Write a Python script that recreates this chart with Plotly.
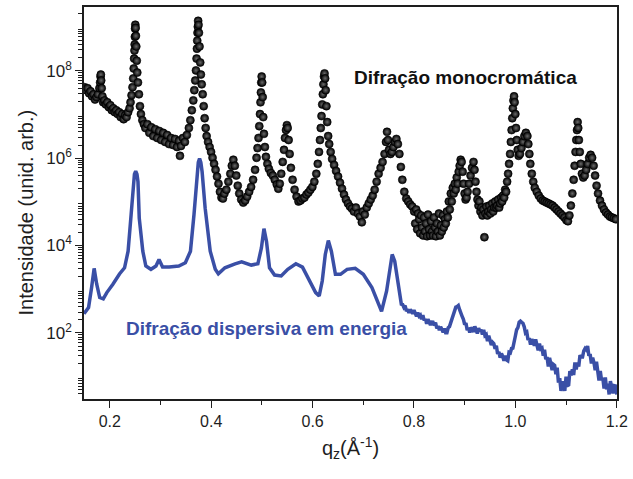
import plotly.graph_objects as go

# Monochromatic diffraction (black dots): q_z in 1/Angstrom, intensity in arb. units
mono_q = [
    0.1500, 0.1531, 0.1560, 0.1590, 0.1619, 0.1648, 0.1677, 0.1707, 0.1736, 0.1765,
    0.1794, 0.1808, 0.1816, 0.1822, 0.1829, 0.1839, 0.1853, 0.1868, 0.1892, 0.1921,
    0.1950, 0.1980, 0.2009, 0.2038, 0.2067, 0.2097, 0.2126, 0.2155, 0.2184, 0.2213,
    0.2243, 0.2272, 0.2301, 0.2330, 0.2360, 0.2389, 0.2408, 0.2428, 0.2447, 0.2461,
    0.2471, 0.2479, 0.2486, 0.2490, 0.2494, 0.2498, 0.2502, 0.2508, 0.2514, 0.2521,
    0.2531, 0.2541, 0.2555, 0.2574, 0.2594, 0.2613, 0.2642, 0.2672, 0.2701, 0.2740,
    0.2779, 0.2818, 0.2857, 0.2896, 0.2935, 0.2974, 0.3013, 0.3052, 0.3091, 0.3130,
    0.3169, 0.3208, 0.3247, 0.3286, 0.3325, 0.3364, 0.3383, 0.3403, 0.3442, 0.3481,
    0.3520, 0.3559, 0.3588, 0.3617, 0.3646, 0.3666, 0.3685, 0.3699, 0.3711, 0.3718,
    0.3724, 0.3730, 0.3736, 0.3742, 0.3749, 0.3757, 0.3769, 0.3783, 0.3796, 0.3812,
    0.3831, 0.3851, 0.3870, 0.3890, 0.3909, 0.3938, 0.3968, 0.3997, 0.4026, 0.4056,
    0.4085, 0.4114, 0.4143, 0.4172, 0.4202, 0.4231, 0.4260, 0.4299, 0.4338, 0.4377,
    0.4406, 0.4436, 0.4465, 0.4494, 0.4523, 0.4553, 0.4592, 0.4631, 0.4670, 0.4709,
    0.4748, 0.4787, 0.4826, 0.4865, 0.4894, 0.4913, 0.4933, 0.4948, 0.4962, 0.4972,
    0.4980, 0.4987, 0.4995, 0.5005, 0.5015, 0.5026, 0.5040, 0.5059, 0.5079, 0.5108,
    0.5137, 0.5176, 0.5215, 0.5254, 0.5293, 0.5323, 0.5352, 0.5381, 0.5410, 0.5436,
    0.5455, 0.5475, 0.5492, 0.5508, 0.5527, 0.5547, 0.5572, 0.5605, 0.5644, 0.5683,
    0.5722, 0.5761, 0.5800, 0.5839, 0.5878, 0.5917, 0.5956, 0.5995, 0.6034, 0.6073,
    0.6102, 0.6126, 0.6145, 0.6161, 0.6176, 0.6190, 0.6202, 0.6213, 0.6225, 0.6235,
    0.6247, 0.6258, 0.6272, 0.6288, 0.6307, 0.6327, 0.6356, 0.6385, 0.6424, 0.6463,
    0.6502, 0.6541, 0.6580, 0.6619, 0.6658, 0.6698, 0.6737, 0.6776, 0.6815, 0.6854,
    0.6893, 0.6932, 0.6971, 0.6990, 0.7029, 0.7068, 0.7107, 0.7146, 0.7185, 0.7224,
    0.7263, 0.7302, 0.7341, 0.7380, 0.7419, 0.7448, 0.7468, 0.7487, 0.7507, 0.7536,
    0.7565, 0.7595, 0.7624, 0.7653, 0.7682, 0.7712, 0.7741, 0.7770, 0.7809, 0.7848,
    0.7887, 0.7926, 0.7965, 0.8004, 0.8024, 0.8043, 0.8063, 0.8082, 0.8102, 0.8121,
    0.8141, 0.8160, 0.8180, 0.8199, 0.8219, 0.8238, 0.8258, 0.8277, 0.8297, 0.8316,
    0.8336, 0.8355, 0.8375, 0.8394, 0.8414, 0.8433, 0.8453, 0.8472, 0.8492, 0.8511,
    0.8531, 0.8550, 0.8570, 0.8589, 0.8609, 0.8628, 0.8648, 0.8667, 0.8687, 0.8706,
    0.8726, 0.8745, 0.8765, 0.8784, 0.8804, 0.8823, 0.8843, 0.8862, 0.8882, 0.8901,
    0.8921, 0.8940, 0.8960, 0.8979, 0.8999, 0.9018, 0.9038, 0.9057, 0.9086, 0.9116,
    0.9145, 0.9174, 0.9194, 0.9213, 0.9233, 0.9252, 0.9272, 0.9291, 0.9311, 0.9330,
    0.9350, 0.9369, 0.9389, 0.9408, 0.9428, 0.9447, 0.9467, 0.9486, 0.9506, 0.9525,
    0.9545, 0.9564, 0.9584, 0.9603, 0.9623, 0.9642, 0.9662, 0.9681, 0.9701, 0.9720,
    0.9740, 0.9759, 0.9779, 0.9798, 0.9818, 0.9837, 0.9857, 0.9876, 0.9896, 0.9911,
    0.9925, 0.9939, 0.9950, 0.9962, 0.9974, 0.9985, 0.9999, 1.0013, 1.0028, 1.0046,
    1.0065, 1.0091, 1.0120, 1.0149, 1.0178, 1.0207, 1.0237, 1.0256, 1.0276, 1.0295,
    1.0324, 1.0353, 1.0383, 1.0422, 1.0461, 1.0500, 1.0539, 1.0578, 1.0617, 1.0656,
    1.0695, 1.0734, 1.0773, 1.0812, 1.0851, 1.0890, 1.0929, 1.0968, 1.1007, 1.1037,
    1.1066, 1.1095, 1.1124, 1.1150, 1.1169, 1.1187, 1.1202, 1.1216, 1.1228, 1.1240,
    1.1253, 1.1271, 1.1290, 1.1313, 1.1339, 1.1368, 1.1397, 1.1427, 1.1456, 1.1485,
    1.1514, 1.1544, 1.1573, 1.1602, 1.1631, 1.1670, 1.1709, 1.1748, 1.1787, 1.1826,
    1.1865, 1.1904, 1.1943, 1.1982,
]
mono_i = [
    4.2e7, 3.6e7, 4.0e7, 3.05e7, 3.4e7, 2.6e7, 2.9e7, 2.2e7, 2.5e7, 2.9e7,
    4.0e7, 5.4e7, 7.4e7, 8.2e7, 6.0e7, 4.0e7, 2.6e7, 1.9e7, 2.1e7, 1.7e7,
    1.9e7, 1.47e7, 1.63e7, 1.25e7, 1.39e7, 1.13e7, 1.25e7, 1.02e7, 1.13e7, 8.7e6,
    1.02e7, 7.8e6, 9.6e6, 8.7e6, 1.13e7, 1.39e7, 1.9e7, 2.75e7, 4.2e7, 6.7e7,
    1.13e8, 1.9e8, 2.9e8, 4.0e8, 6.0e8, 9.2e8, 1.13e9, 9.6e8, 6.3e8, 3.6e8,
    1.7e8, 9.1e7, 5.4e7, 2.9e7, 1.55e7, 1.02e7, 7.4e6, 6.0e6, 4.9e6, 6.0e6,
    3.8e6, 5.1e6, 3.2e6, 4.6e6, 2.9e6, 4.2e6, 2.6e6, 3.8e6, 2.35e6, 3.4e6,
    2.1e6, 2.9e6, 2.0e6, 2.75e6, 1.8e6, 2.5e6, 1.13e6, 1.9e6, 2.9e6, 2.35e6,
    3.4e6, 4.9e6, 7.4e6, 1.25e7, 2.1e7, 3.6e7, 6.0e7, 1.02e8, 1.9e8, 3.2e8,
    4.9e8, 7.4e8, 1.02e9, 1.39e9, 1.13e9, 7.4e8, 3.6e8, 1.55e8, 8.2e7, 4.9e7,
    2.9e7, 1.55e7, 8.2e6, 4.9e6, 3.2e6, 2.35e6, 1.8e6, 1.39e6, 1.02e6, 7.4e5,
    5.4e5, 3.8e5, 2.6e5, 1.7e5, 1.25e5, 1.19e5, 1.55e5, 1.9e5, 2.9e5, 4.4e5,
    6.7e5, 9.2e5, 6.7e5, 4.0e5, 2.35e5, 1.55e5, 1.13e5, 9.6e4, 1.07e5, 1.32e5,
    1.7e5, 2.2e5, 3.2e5, 5.4e5, 1.02e6, 1.7e6, 2.9e6, 5.4e6, 1.02e7, 1.9e7,
    3.2e7, 5.4e7, 7.4e7, 5.4e7, 2.5e7, 8.7e6, 3.6e6, 1.8e6, 1.07e6, 7.4e5,
    5.7e5, 4.6e5, 4.0e5, 3.2e5, 2.5e5, 2.0e5, 2.6e5, 4.4e5, 8.2e5, 1.55e6,
    2.9e6, 4.4e6, 5.7e6, 4.9e6, 2.6e6, 1.25e6, 6.0e5, 3.2e5, 1.9e5, 1.32e5,
    1.02e5, 1.07e5, 1.19e5, 1.25e5, 1.47e5, 1.63e5, 1.9e5, 2.2e5, 2.9e5, 4.4e5,
    7.4e5, 1.39e6, 2.6e6, 4.9e6, 9.2e6, 1.7e7, 2.9e7, 4.9e7, 7.4e7, 8.7e7,
    6.7e7, 3.6e7, 1.55e7, 6.7e6, 3.2e6, 2.1e6, 1.39e6, 9.6e5, 7.0e5, 5.1e5,
    3.8e5, 2.75e5, 2.0e5, 1.47e5, 1.13e5, 9.2e4, 7.8e4, 7.0e4, 6.0e4, 7.4e4,
    5.4e4, 4.6e4, 3.4e4, 6.0e4, 5.1e4, 7.4e4, 9.2e4, 1.13e5, 1.39e5, 1.9e5,
    2.9e5, 4.4e5, 6.0e5, 8.2e5, 1.25e6, 2.35e6, 4.0e6, 2.6e6, 1.55e6, 1.25e6,
    1.39e6, 1.8e6, 2.35e6, 2.75e6, 2.1e6, 1.25e6, 6.3e5, 3.2e5, 1.7e5, 1.19e5,
    1.02e5, 8.7e4, 7.8e4, 6.0e4, 3.2e4, 6.7e4, 2.35e4, 5.4e4, 4.0e4, 1.9e4,
    4.9e4, 2.6e4, 1.7e4, 4.4e4, 2.1e4, 3.2e4, 1.63e4, 5.1e4, 2.35e4, 1.7e4,
    3.6e4, 2.1e4, 1.7e4, 4.4e4, 2.6e4, 1.63e4, 3.2e4, 2.1e4, 5.4e4, 1.7e4,
    2.9e4, 2.1e4, 4.9e4, 2.6e4, 4.0e4, 3.2e4, 6.0e4, 4.4e4, 1.02e5, 6.7e4,
    1.55e5, 1.02e5, 2.1e5, 1.55e5, 2.6e5, 1.9e5, 3.6e5, 2.6e5, 4.9e5, 6.7e5,
    9.2e5, 8.2e5, 4.9e5, 2.6e5, 1.55e5, 1.13e5, 1.25e5, 1.7e5, 2.6e5, 4.0e5,
    6.0e5, 8.2e5, 5.4e5, 2.9e5, 1.7e5, 1.13e5, 8.2e4, 1.02e5, 6.0e4, 7.4e4,
    4.9e4, 6.7e4, 1.55e4, 5.4e4, 7.8e4, 4.9e4, 6.0e4, 8.2e4, 5.4e4, 6.7e4,
    9.2e4, 6.0e4, 7.4e4, 1.02e5, 7.4e4, 8.2e4, 1.13e5, 7.4e4, 9.2e4, 1.25e5,
    1.02e5, 1.39e5, 1.25e5, 1.9e5, 1.7e5, 2.9e5, 4.4e5, 7.4e5, 1.25e6, 2.35e6,
    4.4e6, 8.2e6, 1.39e7, 2.1e7, 2.6e7, 1.9e7, 1.02e7, 4.9e6, 2.6e6, 1.55e6,
    1.13e6, 1.25e6, 1.7e6, 2.35e6, 3.2e6, 3.8e6, 3.2e6, 2.1e6, 1.25e6, 7.4e5,
    4.4e5, 2.9e5, 2.1e5, 1.7e5, 1.39e5, 1.19e5, 1.07e5, 1.02e5, 9.6e4, 9.2e4,
    8.7e4, 8.2e4, 7.4e4, 6.7e4, 6.0e4, 5.4e4, 4.9e4, 4.4e4, 3.8e4, 3.6e4,
    4.9e4, 8.2e4, 1.55e5, 3.2e5, 6.7e5, 1.39e6, 2.6e6, 4.4e6, 6.7e6, 4.9e6,
    2.6e6, 1.39e6, 7.4e5, 4.4e5, 3.6e5, 4.0e5, 5.4e5, 7.4e5, 1.02e6, 1.19e6,
    1.02e6, 6.7e5, 4.0e5, 2.35e5, 1.55e5, 1.07e5, 8.2e4, 6.7e4, 5.7e4, 5.1e4,
    4.6e4, 4.4e4, 4.2e4, 4.0e4,
]

# Energy-dispersive diffraction (blue line); the q > 0.77 part is the noisy tail
edx_q = [
    0.149, 0.158, 0.164, 0.169, 0.174, 0.180, 0.187, 0.194, 0.206, 0.219,
    0.229, 0.236, 0.242, 0.2455, 0.2485, 0.251, 0.2535, 0.2555, 0.258, 0.265,
    0.271, 0.281, 0.291, 0.297, 0.304, 0.317, 0.336, 0.349, 0.359, 0.366,
    0.371, 0.3745, 0.377, 0.3795, 0.382, 0.388, 0.398, 0.408, 0.414, 0.427,
    0.447, 0.460, 0.479, 0.492, 0.499, 0.504, 0.509, 0.515, 0.525, 0.538,
    0.551, 0.567, 0.580, 0.593, 0.606, 0.613, 0.619, 0.625, 0.631, 0.637,
    0.645, 0.655, 0.668, 0.684, 0.700, 0.717, 0.730, 0.736, 0.746, 0.754,
    0.757, 0.762, 0.769, 0.775,
    0.7775, 0.7800, 0.7825, 0.7850, 0.7875, 0.7900, 0.7925, 0.7950, 0.7975, 0.8000,
    0.8025, 0.8050, 0.8075, 0.8100, 0.8125, 0.8150, 0.8175, 0.8200, 0.8225, 0.8250,
    0.8275, 0.8300, 0.8325, 0.8350, 0.8375, 0.8400, 0.8425, 0.8450, 0.8475, 0.8500,
    0.8525, 0.8550, 0.8575, 0.8600, 0.8625, 0.8650, 0.8675, 0.8700, 0.8725, 0.8750,
    0.8775, 0.8800, 0.8825, 0.8850, 0.8875, 0.8900, 0.8925, 0.8950, 0.8975, 0.9000,
    0.9025, 0.9050, 0.9075, 0.9100, 0.9125, 0.9150, 0.9175, 0.9200, 0.9225, 0.9250,
    0.9275, 0.9300, 0.9325, 0.9350, 0.9375, 0.9400, 0.9425, 0.9450, 0.9475, 0.9500,
    0.9525, 0.9550, 0.9575, 0.9600, 0.9625, 0.9650, 0.9675, 0.9700, 0.9725, 0.9750,
    0.9775, 0.9800, 0.9825, 0.9850, 0.9875, 0.9900, 0.9925, 0.9950, 0.9975, 1.0000,
    1.0025, 1.0050, 1.0075, 1.0100, 1.0125, 1.0150, 1.0175, 1.0200, 1.0225, 1.0250,
    1.0275, 1.0300, 1.0325, 1.0350, 1.0375, 1.0400, 1.0425, 1.0450, 1.0475, 1.0500,
    1.0525, 1.0550, 1.0575, 1.0600, 1.0625, 1.0650, 1.0675, 1.0700, 1.0725, 1.0750,
    1.0775, 1.0800, 1.0825, 1.0850, 1.0875, 1.0900, 1.0925, 1.0950, 1.0975, 1.1000,
    1.1025, 1.1050, 1.1075, 1.1100, 1.1125, 1.1150, 1.1175, 1.1200, 1.1225, 1.1250,
    1.1275, 1.1300, 1.1325, 1.1350, 1.1375, 1.1400, 1.1425, 1.1450, 1.1475, 1.1500,
    1.1525, 1.1550, 1.1575, 1.1600, 1.1625, 1.1650, 1.1675, 1.1700, 1.1725, 1.1750,
    1.1775, 1.1800, 1.1825, 1.1850, 1.1875, 1.1900, 1.1925, 1.1950, 1.1975, 1.2000,
]
edx_i = [
    275, 382, 1090, 3000, 1320, 645, 602, 837, 1300, 2230,
    3100, 7420, 51400, 180000, 430000, 507000, 430000, 289000, 42400, 7420,
    3390, 2850, 3390, 4800, 3210, 3210, 3390, 4020, 7420, 51400,
    300000, 800000, 980000, 800000, 489000, 71600, 7420, 2850, 2260, 3100,
    3820, 4240, 3570, 3820, 8820, 24300, 12500, 3100, 2110, 2010,
    2850, 3820, 3210, 1690, 837, 704, 1540, 6240, 13000, 7420,
    2190, 2190, 2850, 3000, 2190, 1090, 456, 310, 915, 3700,
    6240, 4400, 1090, 456,
    447, 385, 421, 314, 348, 288, 343, 313, 275, 331,
    264, 238, 291, 243, 256, 205, 253, 193, 209, 162,
    207, 174, 152, 176, 175, 148, 173, 127, 144, 115,
    138, 122, 103, 126, 101, 101, 131, 139, 175, 204,
    280, 305, 388, 398, 421, 339, 267, 240, 204, 156,
    167, 116, 131, 102, 133, 122, 106, 141, 108, 97,
    129, 108, 118, 92, 118, 87, 92, 65, 86, 66,
    53, 61, 57, 43, 51, 33, 37, 27, 34, 29,
    23, 30, 24, 23, 36, 35, 44, 45, 73, 85,
    118, 132, 175, 186, 175, 166, 138, 100, 105, 69,
    76, 54, 72, 63, 51, 71, 48, 40, 57, 43,
    45, 30, 41, 25, 28, 17, 27, 19, 14, 19,
    18, 11.3, 16, 7.3, 9.2, 4.7, 7.8, 6.1, 4.7, 10,
    6.4, 6.1, 13.4, 10.6, 14.7, 10.9, 21, 14.5, 21, 17,
    31, 28, 28, 39, 44, 41, 50, 30, 33, 20,
    27, 21, 14, 22, 11.3, 8.1, 13.4, 8.2, 9.4, 5.3,
    9.6, 5.1, 6.9, 3.9, 7.9, 5.5, 4.1, 6.2, 6.1, 3.9,
]

# Intensity axis ticks: labelled even decades, unlabelled odd decades, minor 2..9
y_major = [1e2, 1e4, 1e6, 1e8]
y_major_labels = ["10<sup>2</sup>", "10<sup>4</sup>", "10<sup>6</sup>", "10<sup>8</sup>"]
y_odd = [1e1, 1e3, 1e5, 1e7, 1e9]
y_minor = [m * d for d in [1e0, 1e1, 1e2, 1e3, 1e4, 1e5, 1e6, 1e7, 1e8, 1e9]
           for m in range(2, 10)]

x_major = [0.2, 0.4, 0.6, 0.8, 1.0, 1.2]
x_major_labels = ["0.2", "0.4", "0.6", "0.8", "1.0", "1.2"]
x_minor = [0.3, 0.5, 0.7, 0.9, 1.1]

BLUE = "#3a4fa6"
INK = "#1e1e1e"
FONT = "Liberation Sans, Arial, sans-serif"
Y_RANGE = [0.487, 9.46]

fig = go.Figure()

fig.add_trace(go.Scatter(
    x=edx_q, y=edx_i, mode="lines",
    line=dict(color=BLUE, width=3.5),
    name="Difração dispersiva em energia",
))

fig.add_trace(go.Scatter(
    x=mono_q, y=mono_i, mode="markers",
    marker=dict(
        size=8, color="#000000",
        gradient=dict(type="radial", color="#6a6a6a"),
        line=dict(color="#000000", width=0.6),
    ),
    name="Difração monocromática",
))

fig.add_annotation(
    x=0.9017, y=0.853, xref="x", yref="paper",
    text="<b>Difração monocromática</b>", showarrow=False,
    font=dict(family=FONT, size=19, color="#111111"),
)
fig.add_annotation(
    x=0.5098, y=0.147, xref="x", yref="paper",
    text="<b>Difração dispersiva em energia</b>", showarrow=False,
    font=dict(family=FONT, size=19, color=BLUE),
)
# vertical axis title, placed beside the tick labels
fig.add_annotation(
    x=-0.1097, y=0.4746, xref="paper", yref="paper",
    text="Intensidade (unid. arb.)", textangle=-90, showarrow=False,
    xanchor="center", yanchor="middle",
    font=dict(family=FONT, size=20, color=INK),
)

fig.update_layout(
    width=633, height=479,
    margin=dict(l=84, r=11, t=5, b=80),
    paper_bgcolor="white", plot_bgcolor="white",
    showlegend=False,
    font=dict(family=FONT, color=INK),
    xaxis=dict(
        range=[0.149, 1.2005],
        showgrid=False, zeroline=False,
        showline=True, linecolor=INK, linewidth=1.6, mirror=True,
        ticks="outside", ticklen=7, tickwidth=1.4, tickcolor=INK,
        tickmode="array", tickvals=x_major, ticktext=x_major_labels,
        tickfont=dict(family=FONT, size=16, color=INK),
        minor=dict(tickmode="array", tickvals=x_minor, ticks="outside",
                   ticklen=4, tickwidth=1.2, tickcolor=INK, showgrid=False),
        title=dict(text="q<sub>z</sub>(Å<sup>-1</sup>)",
                   font=dict(family=FONT, size=20, color=INK), standoff=12),
    ),
    yaxis=dict(
        type="log", range=Y_RANGE,
        showgrid=False, zeroline=False,
        showline=True, linecolor=INK, linewidth=1.6, mirror=True,
        ticks="outside", ticklen=7, tickwidth=1.4, tickcolor=INK,
        tickmode="array", tickvals=y_major, ticktext=y_major_labels,
        tickfont=dict(family=FONT, size=17, color=INK),
        minor=dict(tickmode="array", tickvals=y_minor, ticks="outside",
                   ticklen=4, tickwidth=1.0, tickcolor=INK, showgrid=False),
    ),
    # companion axis carrying the long, unlabelled ticks at odd decades
    yaxis2=dict(
        type="log", range=Y_RANGE, overlaying="y", side="left",
        showgrid=False, zeroline=False, showline=False,
        ticks="outside", ticklen=7, tickwidth=1.4, tickcolor=INK,
        tickmode="array", tickvals=y_odd, showticklabels=False,
    ),
)

fig.write_html("out.html")
